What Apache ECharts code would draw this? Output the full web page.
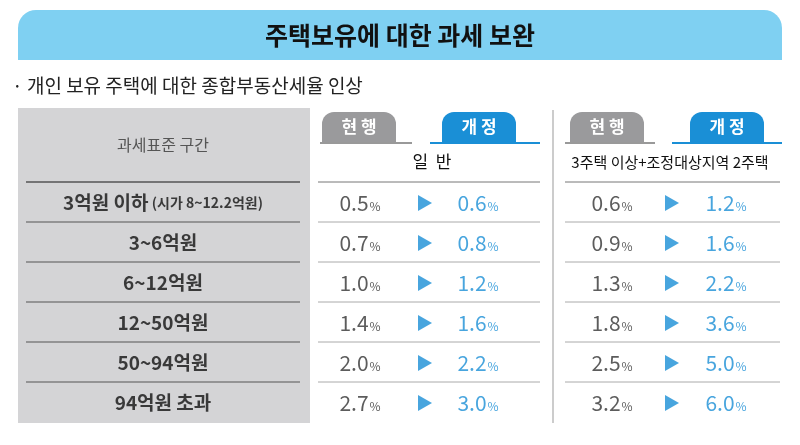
<!DOCTYPE html>
<html><head><meta charset="utf-8">
<script src="https://cdn.jsdelivr.net/npm/echarts@6/dist/echarts.min.js"></script>
<style>html,body{margin:0;background:#fff}#c{width:800px;height:445px}</style>
</head><body><div id="c"></div>
<script>
// 데이터
var brackets = ['3억원 이하', '3~6억원', '6~12억원', '12~50억원', '50~94억원', '94억원 초과'];
var generalCur = [0.5, 0.7, 1.0, 1.4, 2.0, 2.7];
var generalNew = [0.6, 0.8, 1.2, 1.6, 2.2, 3.0];
var multiCur = [0.6, 0.9, 1.3, 1.8, 2.5, 3.2];
var multiNew = [1.2, 1.6, 2.2, 3.6, 5.0, 6.0];

var myChart = echarts.init(document.getElementById('c'));
var font = '"Noto Sans CJK KR", sans-serif';
var blue = '#1a8fd6';

// 열 위치 (px)
var colX = { label: 163, cur1: 360, arrow1: 425, new1: 478, cur2: 612, arrow2: 672, new2: 726 };

function pts(vals, x) {
    return vals.map(function (v, i) { return [x, i, v]; });
}
function pctLabel(color) {
    return {
        show: true, position: 'inside',
        formatter: function (p) { return '{n|' + p.value[2].toFixed(1) + '}{p|%}'; },
        rich: {
            n: { fontFamily: font, fontSize: 21, color: color },
            p: { fontFamily: font, fontSize: 12, color: color, padding: [6, 0, 0, 1] }
        }
    };
}
function valueSeries(vals, x, color) {
    return { type: 'scatter', symbolSize: 2, itemStyle: { color: 'rgba(0,0,0,0)' }, data: pts(vals, x), label: pctLabel(color), silent: true };
}
function arrowSeries(x) {
    return {
        type: 'scatter', symbol: 'triangle', symbolRotate: -90, symbolSize: [16, 14],
        itemStyle: { color: blue }, silent: true,
        data: brackets.map(function (b, i) { return [x, i]; })
    };
}

var lines = [];
[222, 262, 302, 342, 382].forEach(function (y) {
    lines.push({ type: 'line', shape: { x1: 26, y1: y, x2: 300, y2: y }, style: { stroke: '#555', lineWidth: 1 } });
    lines.push({ type: 'line', shape: { x1: 318, y1: y, x2: 540, y2: y }, style: { stroke: '#aaa', lineWidth: 1 } });
    lines.push({ type: 'line', shape: { x1: 565, y1: y, x2: 780, y2: y }, style: { stroke: '#aaa', lineWidth: 1 } });
});

function tab(x, text, color) {
    return [
        { type: 'rect', shape: { x: x, y: 112, width: 74, height: 30, r: [12, 12, 0, 0] }, style: { fill: color } },
        { type: 'text', x: x + 37, y: 127, style: { text: text, fill: '#fff', font: 'bold 17px ' + font, align: 'center', verticalAlign: 'middle' } }
    ];
}

var option = {
    animation: false,
    grid: { left: 0, right: 0, top: 183, bottom: 22 },
    xAxis: { type: 'value', min: 0, max: 800, show: false },
    yAxis: { type: 'category', data: brackets, inverse: true, show: false },
    graphic: [
        { type: 'rect', shape: { x: 18, y: 10, width: 764, height: 50, r: [18, 18, 0, 0] }, style: { fill: '#7fd0f2' } },
        { type: 'text', x: 400, y: 35, style: { text: '주택보유에 대한 과세 보완', fill: '#111', font: 'bold 25px ' + font, align: 'center', verticalAlign: 'middle' } },
        { type: 'text', x: 12, y: 86, style: { text: '· 개인 보유 주택에 대한 종합부동산세율 인상', fill: '#222', font: '19px ' + font, verticalAlign: 'middle' } },
        { type: 'rect', shape: { x: 18, y: 108, width: 292, height: 315 }, style: { fill: '#d4d4d6' } },
        { type: 'line', shape: { x1: 26, y1: 182, x2: 300, y2: 182 }, style: { stroke: '#555', lineWidth: 1.5 } },
        { type: 'text', x: 163, y: 145, style: { text: '과세표준 구간', fill: '#555', font: '16px ' + font, align: 'center', verticalAlign: 'middle' } },
        { type: 'line', shape: { x1: 553, y1: 110, x2: 553, y2: 423 }, style: { stroke: '#999', lineWidth: 1 } },
        { type: 'line', shape: { x1: 320, y1: 143, x2: 412, y2: 143 }, style: { stroke: '#999', lineWidth: 2 } },
        { type: 'line', shape: { x1: 430, y1: 143, x2: 540, y2: 143 }, style: { stroke: blue, lineWidth: 2 } },
        { type: 'line', shape: { x1: 565, y1: 143, x2: 655, y2: 143 }, style: { stroke: '#999', lineWidth: 2 } },
        { type: 'line', shape: { x1: 672, y1: 143, x2: 782, y2: 143 }, style: { stroke: blue, lineWidth: 2 } },
        { type: 'line', shape: { x1: 318, y1: 182, x2: 540, y2: 182 }, style: { stroke: '#777', lineWidth: 1 } },
        { type: 'line', shape: { x1: 565, y1: 182, x2: 780, y2: 182 }, style: { stroke: '#777', lineWidth: 1 } },
        { type: 'text', x: 432, y: 162, style: { text: '일  반', fill: '#111', font: '17px ' + font, align: 'center', verticalAlign: 'middle' } },
        { type: 'text', x: 670, y: 162, style: { text: '3주택 이상+조정대상지역 2주택', fill: '#111', font: '15px ' + font, align: 'center', verticalAlign: 'middle' } }
    ].concat(tab(322, '현 행', '#9a9a9c'), tab(442, '개 정', blue), tab(570, '현 행', '#9a9a9c'), tab(690, '개 정', blue), lines),
    series: [
        {
            type: 'scatter', symbolSize: 2, itemStyle: { color: 'rgba(0,0,0,0)' }, silent: true,
            data: brackets.map(function (b, i) { return [colX.label, i]; }),
            label: {
                show: true, position: 'inside',
                formatter: function (p) {
                    var b = brackets[p.dataIndex];
                    return p.dataIndex === 0 ? '{b|' + b + '} {s|(시가 8~12.2억원)}' : '{b|' + b + '}';
                },
                rich: {
                    b: { fontFamily: font, fontSize: 19, fontWeight: 'bold', color: '#111' },
                    s: { fontFamily: font, fontSize: 14, fontWeight: 'bold', color: '#111' }
                }
            }
        },
        valueSeries(generalCur, colX.cur1, '#333'),
        arrowSeries(colX.arrow1),
        valueSeries(generalNew, colX.new1, blue),
        valueSeries(multiCur, colX.cur2, '#333'),
        arrowSeries(colX.arrow2),
        valueSeries(multiNew, colX.new2, blue)
    ]
};
myChart.setOption(option);
</script>
</body></html>
